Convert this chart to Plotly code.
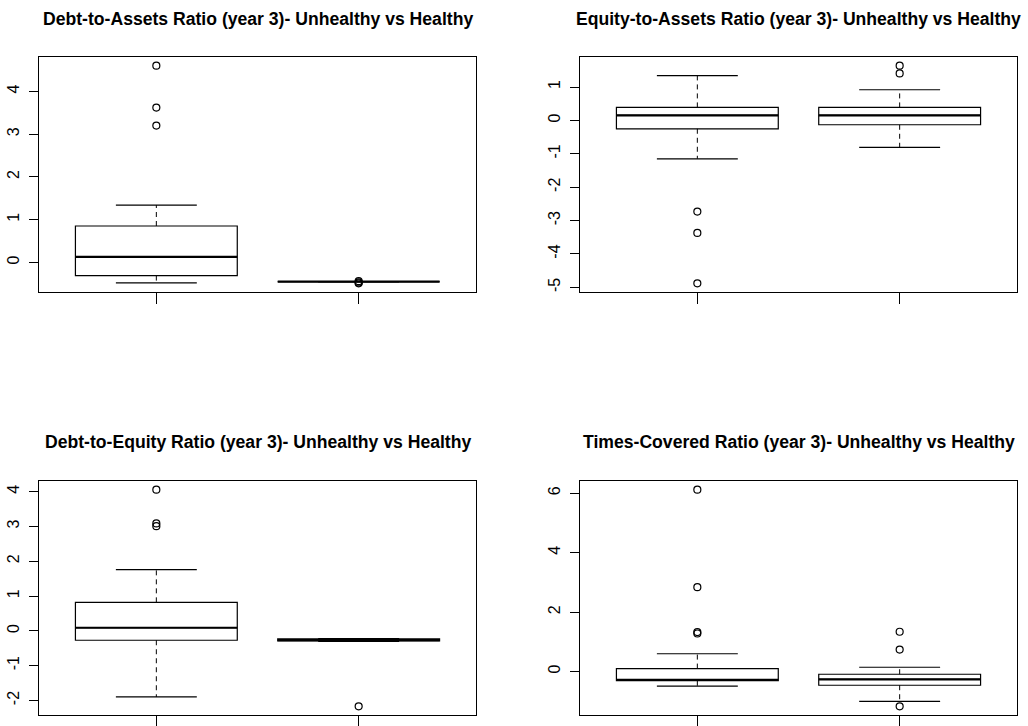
import math
import plotly.graph_objects as go

# ---------------- data ----------------
groups = ["Unhealthy", "Healthy"]
titles = [
    "Debt-to-Assets Ratio (year 3)- Unhealthy vs Healthy",
    "Equity-to-Assets Ratio (year 3)- Unhealthy vs Healthy",
    "Debt-to-Equity Ratio (year 3)- Unhealthy vs Healthy",
    "Times-Covered Ratio (year 3)- Unhealthy vs Healthy",
]

# per panel: [unhealthy, healthy]
lower_whisker = [[-0.48, -0.45], [-1.15, -0.81], [-1.90, -0.30], [-0.49, -1.00]]
q1_values     = [[-0.31, -0.45], [-0.25, -0.13], [-0.27, -0.29], [-0.31, -0.46]]
median_values = [[0.13, -0.45], [0.15, 0.15], [0.09, -0.27], [-0.28, -0.26]]
q3_values     = [[0.85, -0.45], [0.39, 0.39], [0.82, -0.23], [0.10, -0.09]]
upper_whisker = [[1.34, -0.45], [1.34, 0.92], [1.76, -0.22], [0.60, 0.145]]
outliers = [
    [[4.60, 3.62, 3.20], [-0.44, -0.47, -0.49]],
    [[-2.73, -3.37, -4.88], [1.64, 1.41]],
    [[4.06, 3.09, 3.01], [-2.17]],
    [[6.12, 2.84, 1.33, 1.28], [1.34, 0.74, -1.17]],
]
y_dticks = [1, 1, 1, 2]

# ---------------- layout geometry ----------------
W, H = 1028, 726
x_domains = [(39, 476), (580, 1017), (39, 476), (580, 1017)]
y_domains = [(57, 292), (57, 292), (481, 715), (481, 715)]
title_y_px = [19, 19, 442, 442]

FONT = "Liberation Sans, Arial, sans-serif"
BOX_W = 0.8
CAP_HALF = 0.2

fig = go.Figure()
layout = dict(
    width=W, height=H, paper_bgcolor="white", plot_bgcolor="white",
    margin=dict(l=0, r=0, t=0, b=0), showlegend=False,
    font=dict(family=FONT, color="black"),
    annotations=[],
)

for p in range(4):
    xa = "x" if p == 0 else f"x{p+1}"
    ya = "y" if p == 0 else f"y{p+1}"
    xkey = "xaxis" if p == 0 else f"xaxis{p+1}"
    ykey = "yaxis" if p == 0 else f"yaxis{p+1}"

    all_vals = []
    for g in range(2):
        pos = g + 1
        lo, q1, md, q3, hi = (lower_whisker[p][g], q1_values[p][g], median_values[p][g],
                              q3_values[p][g], upper_whisker[p][g])
        all_vals += [lo, hi] + outliers[p][g]
        # whiskers (dashed)
        fig.add_trace(go.Scatter(x=[pos, pos, None, pos, pos], y=[q3, hi, None, q1, lo],
                                 mode="lines", line=dict(color="black", width=1, dash="5px,4px"),
                                 xaxis=xa, yaxis=ya, hoverinfo="skip"))
        # staples
        fig.add_trace(go.Scatter(x=[pos - CAP_HALF, pos + CAP_HALF, None, pos - CAP_HALF, pos + CAP_HALF],
                                 y=[hi, hi, None, lo, lo], mode="lines",
                                 line=dict(color="black", width=1.2),
                                 xaxis=xa, yaxis=ya, hoverinfo="skip"))
        # box
        fig.add_trace(go.Box(x=[pos], q1=[q1], median=[md], q3=[q3], lowerfence=[q1], upperfence=[q3],
                             width=BOX_W, whiskerwidth=0, fillcolor="white",
                             line=dict(color="black", width=1.2), boxpoints=False,
                             name=groups[g], xaxis=xa, yaxis=ya))
        # thick median
        fig.add_trace(go.Scatter(x=[pos - BOX_W / 2, pos + BOX_W / 2], y=[md, md], mode="lines",
                                 line=dict(color="black", width=2.2),
                                 xaxis=xa, yaxis=ya, hoverinfo="skip"))
        # outliers
        fig.add_trace(go.Scatter(x=[pos] * len(outliers[p][g]), y=outliers[p][g], mode="markers",
                                 marker=dict(symbol="circle-open", size=7, color="black",
                                             line=dict(width=1.2)),
                                 xaxis=xa, yaxis=ya))

    lo_all, hi_all = min(all_vals), max(all_vals)
    ext = 0.04 * (hi_all - lo_all)
    ymin, ymax = lo_all - ext, hi_all + ext
    d = y_dticks[p]
    tvals = [k * d for k in range(math.ceil(ymin / d), math.floor(ymax / d) + 1)]
    ttext = [str(int(v)).replace("\u2212", "-") for v in tvals]
    x0, x1 = x_domains[p]
    y0, y1 = y_domains[p]
    layout[xkey] = dict(domain=[x0 / W, x1 / W], range=[0.5 - 0.04 * 2, 2.5 + 0.04 * 2],
                        anchor=ya, tickvals=[1, 2], ticktext=["", ""], ticks="outside",
                        ticklen=11, tickwidth=1, tickcolor="black",
                        showline=True, linecolor="black", linewidth=1.2, mirror=True,
                        showgrid=False, zeroline=False, fixedrange=True)
    layout[ykey] = dict(domain=[1 - y1 / H, 1 - y0 / H], range=[ymin, ymax],
                        anchor=xa, tickvals=tvals, ticktext=ttext, ticks="outside", ticklen=9,
                        tickwidth=1, tickcolor="black", tickangle=-90,
                        tickfont=dict(size=16, color="black"), ticklabelstandoff=4,
                        showline=True, linecolor="black", linewidth=1.2, mirror=True,
                        showgrid=False, zeroline=False, fixedrange=True)
    layout["annotations"].append(dict(
        text=f"<b>{titles[p]}</b>", xref="paper", yref="paper",
        x=(x0 + x1) / 2 / W, y=1 - title_y_px[p] / H, xanchor="center", yanchor="middle",
        showarrow=False, font=dict(family=FONT, size=17.6, color="black")))

fig.update_layout(**layout)
fig.write_html("out.html")
